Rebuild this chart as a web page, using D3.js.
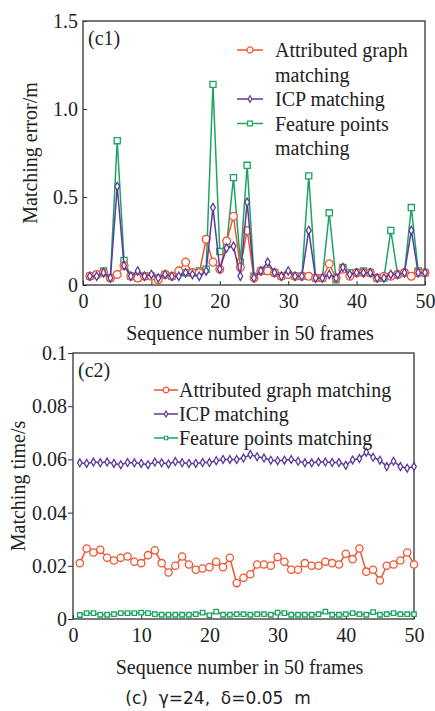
<!DOCTYPE html>
<html>
<head>
<meta charset="utf-8">
<script src="https://cdn.jsdelivr.net/npm/d3@7/dist/d3.min.js"></script>
<style>
body { margin: 0; background: #fff; }
text { font-family: "Liberation Serif", "Times New Roman", serif; fill: #222; }
</style>
</head>
<body>
<div id="chart"></div>
<script>
// sequence numbers of the 50 frames
var frames = d3.range(1, 51);

// (c1) matching error / m
var errAttr = [0.05,0.06,0.07,0.04,0.06,0.11,0.05,0.04,0.05,0.05,
               0.03,0.06,0.05,0.08,0.13,0.07,0.07,0.26,0.13,0.09,
               0.25,0.39,0.10,0.31,0.04,0.08,0.08,0.07,0.05,0.06,
               0.05,0.05,0.05,0.04,0.04,0.12,0.04,0.09,0.05,0.07,
               0.07,0.07,0.04,0.05,0.05,0.06,0.07,0.05,0.07,0.07];
var errICP  = [0.05,0.05,0.07,0.04,0.56,0.11,0.05,0.08,0.05,0.06,
               0.04,0.06,0.05,0.05,0.07,0.06,0.05,0.08,0.44,0.09,
               0.21,0.22,0.05,0.47,0.04,0.08,0.13,0.07,0.05,0.08,
               0.05,0.05,0.31,0.04,0.04,0.06,0.04,0.10,0.06,0.07,
               0.07,0.07,0.04,0.04,0.06,0.06,0.07,0.31,0.07,0.07];
var errFeat = [0.05,0.06,0.08,0.04,0.82,0.14,0.05,0.04,0.05,0.05,
               0.04,0.06,0.05,0.07,0.07,0.07,0.08,0.09,1.14,0.19,
               0.23,0.61,0.13,0.68,0.05,0.08,0.08,0.07,0.05,0.06,
               0.05,0.05,0.62,0.04,0.04,0.41,0.03,0.10,0.07,0.07,
               0.08,0.07,0.04,0.04,0.31,0.06,0.07,0.44,0.08,0.07];

// (c2) matching time / s
var timeAttr = [0.0210,0.0265,0.0250,0.0260,0.0230,0.0220,0.0230,0.0235,0.0215,0.0210,
                0.0240,0.0258,0.0210,0.0175,0.0200,0.0235,0.0205,0.0185,0.0190,0.0195,
                0.0215,0.0195,0.0230,0.0135,0.0155,0.0168,0.0205,0.0205,0.0200,0.0233,
                0.0215,0.0185,0.0185,0.0210,0.0200,0.0200,0.0215,0.0210,0.0205,0.0245,
                0.0225,0.0265,0.0178,0.0185,0.0145,0.0200,0.0205,0.0220,0.0250,0.0205];
var timeICP  = [0.0587,0.0585,0.0590,0.0587,0.0590,0.0585,0.0580,0.0588,0.0587,0.0585,
                0.0580,0.0590,0.0587,0.0583,0.0592,0.0587,0.0585,0.0585,0.0588,0.0588,
                0.0595,0.0600,0.0600,0.0600,0.0605,0.0618,0.0610,0.0605,0.0597,0.0595,
                0.0597,0.0600,0.0593,0.0587,0.0587,0.0590,0.0590,0.0588,0.0588,0.0578,
                0.0598,0.0603,0.0627,0.0608,0.0597,0.0573,0.0593,0.0573,0.0567,0.0573];
var timeFeat = [0.0015,0.0022,0.0022,0.0016,0.0016,0.0018,0.0022,0.0022,0.0022,0.0024,
                0.0022,0.0018,0.0016,0.0016,0.0016,0.0016,0.0016,0.0018,0.0024,0.0014,
                0.0028,0.0016,0.0016,0.0018,0.0018,0.0016,0.0018,0.0018,0.0016,0.0024,
                0.0022,0.0016,0.0016,0.0016,0.0016,0.0018,0.0028,0.0016,0.0016,0.0018,
                0.0022,0.0018,0.0016,0.0026,0.0016,0.0018,0.0022,0.0018,0.0018,0.0018];

var errTicks = [0, 0.5, 1.0, 1.5];
var timeTicks = [0, 0.02, 0.04, 0.06, 0.08, 0.1];
var xTicks = [0, 10, 20, 30, 40, 50];

var colors = { attr: "#ef5630", icp: "#5b3b9c", feat: "#1ea462" };

var width = 435, height = 711;

var svg = d3.select("#chart").append("svg")
    .attr("width", width)
    .attr("height", height);

function drawPanel(p) {
    var x = d3.scaleLinear().domain([0, 50]).range([p.left, p.right]);
    var y = d3.scaleLinear().domain([0, p.ymax]).range([p.bottom, p.top]);

    var g = svg.append("g");

    // x axis, ticks inside the box
    var xa = g.append("g")
        .attr("transform", "translate(0," + p.bottom + ")")
        .call(d3.axisBottom(x).tickValues(xTicks).tickSize(-4).tickPadding(9));
    // y axis
    var ya = g.append("g")
        .attr("transform", "translate(" + p.left + ",0)")
        .call(d3.axisLeft(y).tickValues(p.yTicks).tickFormat(p.yFormat)
            .tickSize(p.yTickSize).tickPadding(p.yPad));

    [xa, ya].forEach(function(a) {
        a.select(".domain").remove();
        a.selectAll("line").attr("stroke", "#333");
        a.selectAll("text").attr("font-size", 20)
            .style("font-family", '"Liberation Serif", serif').attr("fill", "#222");
    });

    g.append("rect")
        .attr("x", p.left).attr("y", p.top)
        .attr("width", p.right - p.left).attr("height", p.bottom - p.top)
        .attr("fill", "none").attr("stroke", "#333").attr("stroke-width", 1.3);

    // axis titles
    g.append("text")
        .attr("x", (p.left + p.right) / 2 - 4)
        .attr("y", p.bottom + 55)
        .attr("text-anchor", "middle")
        .attr("font-size", 20)
        .text("Sequence number in 50 frames");

    g.append("text")
        .attr("transform", "translate(" + p.ytitleX + "," + ((p.top + p.bottom) / 2) + ") rotate(-90)")
        .attr("text-anchor", "middle")
        .attr("dy", "0.35em")
        .attr("font-size", 20)
        .text(p.ytitle);

    g.append("text")
        .attr("x", p.left + 5).attr("y", p.top + 24)
        .attr("font-size", 20)
        .text(p.tag);

    var line = d3.line()
        .x(function(d, i) { return x(frames[i]); })
        .y(function(d) { return y(d); });

    p.series.forEach(function(s) {
        var sg = g.append("g");
        sg.append("path")
            .datum(s.values)
            .attr("d", line)
            .attr("fill", "none")
            .attr("stroke", s.color)
            .attr("stroke-width", 1.5);
        sg.selectAll("path.m")
            .data(s.values)
            .enter().append("path")
            .attr("class", "m")
            .attr("transform", function(d, i) {
                return "translate(" + x(frames[i]) + "," + y(d) + ")";
            })
            .attr("d", d3.symbol().type(s.symbol).size(s.size))
            .attr("fill", "#fff")
            .attr("stroke", s.color)
            .attr("stroke-width", 1.3);
    });

    // legend
    var lg = g.append("g");
    p.series.forEach(function(s) {
        var ly = p.legend.y + s.row * p.legend.dy;
        lg.append("line")
            .attr("x1", p.legend.x1).attr("x2", p.legend.x2)
            .attr("y1", ly).attr("y2", ly)
            .attr("stroke", s.color).attr("stroke-width", 1.5);
        lg.append("path")
            .attr("transform", "translate(" + ((p.legend.x1 + p.legend.x2) / 2) + "," + ly + ")")
            .attr("d", d3.symbol().type(s.symbol).size(s.size * 0.6))
            .attr("fill", "#fff").attr("stroke", s.color).attr("stroke-width", 1.2);
        s.label.forEach(function(t, k) {
            lg.append("text")
                .attr("x", p.legend.tx)
                .attr("y", ly + k * p.legend.dy)
                .attr("dy", "0.35em")
                .attr("font-size", 20)
                .text(t);
        });
    });
}

drawPanel({
    left: 83, right: 425, top: 21, bottom: 285,
    ymax: 1.5, yTicks: errTicks,
    yFormat: function(d) { return d === 0 ? "0" : d3.format(".1f")(d); },
    yTickSize: -4, yPad: 5,
    ytitle: "Matching error/m", ytitleX: 30, tag: "(c1)",
    legend: { x1: 237, x2: 263, tx: 275, y: 50, dy: 24.5 },
    series: [
        { values: errFeat, color: colors.feat, symbol: d3.symbolSquare, size: 38, row: 3,
          label: ["Feature points", "matching"] },
        { values: errAttr, color: colors.attr, symbol: d3.symbolCircle, size: 48, row: 0,
          label: ["Attributed graph", "matching"] },
        { values: errICP, color: colors.icp, symbol: d3.symbolDiamond, size: 20, row: 2,
          label: ["ICP matching"] }
    ]
});

drawPanel({
    left: 73, right: 414, top: 353, bottom: 619,
    ymax: 0.1, yTicks: timeTicks,
    yFormat: function(d) { return d === 0 ? "0" : (d === 0.1 ? "0.1" : d3.format(".2f")(d)); },
    yTickSize: 5, yPad: 1,
    ytitle: "Matching time/s", ytitleX: 18, tag: "(c2)",
    legend: { x1: 154, x2: 178, tx: 179, y: 390, dy: 24 },
    series: [
        { values: timeFeat, color: colors.feat, symbol: d3.symbolSquare, size: 20, row: 2,
          label: ["Feature points matching"] },
        { values: timeAttr, color: colors.attr, symbol: d3.symbolCircle, size: 42, row: 0,
          label: ["Attributed graph matching"] },
        { values: timeICP, color: colors.icp, symbol: d3.symbolDiamond, size: 18, row: 1,
          label: ["ICP matching"] }
    ]
});

// caption
svg.append("text")
    .attr("x", 218).attr("y", 698)
    .attr("dy", "0.35em")
    .attr("text-anchor", "middle")
    .attr("font-size", 17)
    .style("font-family", '"DejaVu Sans", sans-serif')
    .style("white-space", "pre")
    .text("(c)  \u03b3=24,  \u03b4=0.05  m");
</script>
</body>
</html>
